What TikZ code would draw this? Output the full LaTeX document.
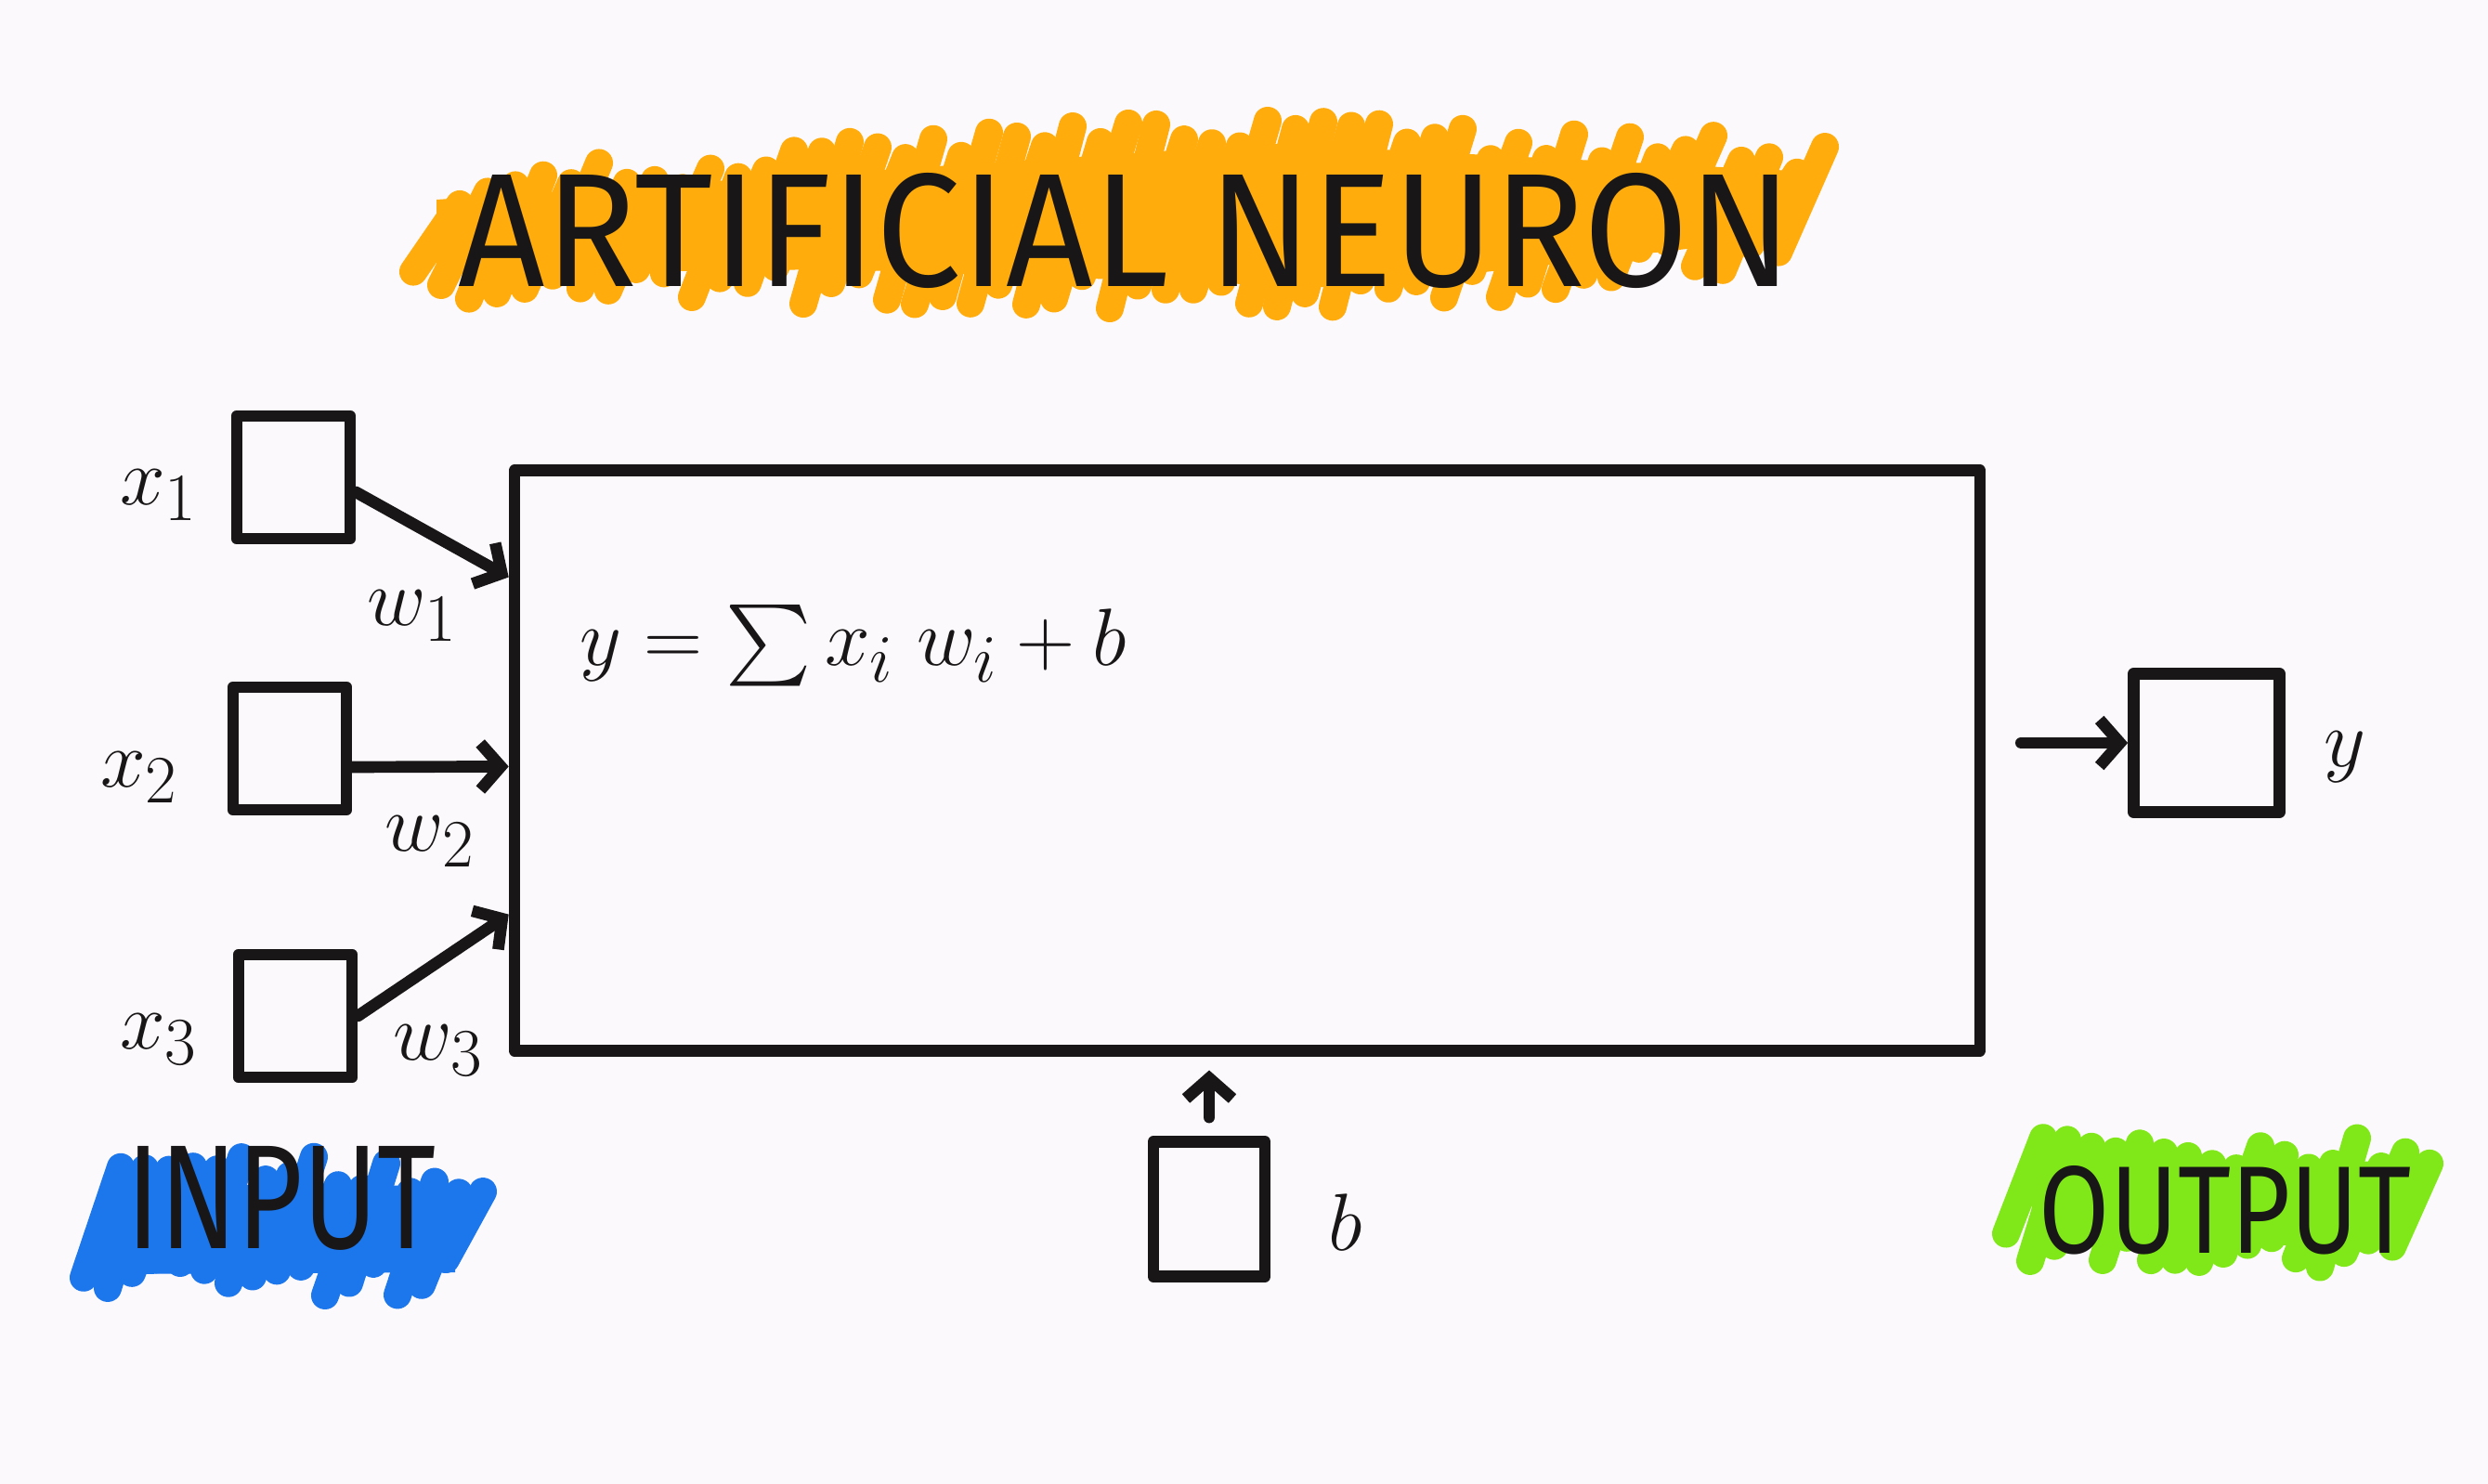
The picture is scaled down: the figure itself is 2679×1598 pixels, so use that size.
\documentclass[tikz,border=0pt]{standalone}
\usepackage{fontspec}
\usepackage{exscale}
\setsansfont{Fira Sans}
\usetikzlibrary{arrows.meta,calc}
\definecolor{paper}{RGB}{251,249,251}
\definecolor{hlorange}{RGB}{255,172,12}
\definecolor{hlblue}{RGB}{28,118,236}
\definecolor{hlgreen}{RGB}{128,232,24}
\definecolor{ink}{RGB}{24,22,22}
\begin{document}
\begin{tikzpicture}[x=0.01cm,y=-0.01cm,
  inkline/.style={draw=ink, line width=3.6pt, line cap=round, line join=round},
  cell/.style={inkline, rectangle, inner sep=0pt, minimum width=1.22cm, minimum height=1.32cm},
  arr/.style={inkline, -{Straight Barb[length=0.22cm, width=0.5cm]}},
  lbl/.style={text=ink, font=\fontsize{30}{34}\selectfont, inner sep=0pt},
  stroke/.style={line width=0.3cm, line cap=round},
]
\fill[paper] (0,0) rectangle (2679,1598);
\useasboundingbox (0,0) rectangle (2679,1598);
\pgfmathsetseed{11}

% highlights (marker strokes)
\fill[hlorange] (470,215) -- (1370,155) -- (1950,185) -- (1930,255) -- (1450,310) -- (900,290) -- (470,295) -- cycle;
\foreach \x in {470,500,...,1960}{
  \pgfmathsetmacro{\tp}{\x<1370 ? 178-(\x-460)/910*60 : 118+(\x-1370)/600*35}
  \pgfmathsetmacro{\bt}{\x<1450 ? 322+(\x-460)/990*20 : 342-(\x-1450)/520*60}
  \pgfmathsetmacro{\ra}{45*rnd}
  \pgfmathsetmacro{\rb}{45*rnd}
  \draw[hlorange, stroke] (\x-25,\bt-\ra) -- (\x+25,\tp+\rb);
}
\fill[hlblue] (115,1275) -- (495,1277) -- (490,1370) -- (118,1372) -- cycle;
\foreach \x in {110,136,...,500}{
  \pgfmathsetmacro{\ra}{40*rnd}
  \pgfmathsetmacro{\rb}{40*rnd}
  \draw[hlblue, stroke] (\x-20,1395-\ra) -- (\x+20,1245+\rb);
}
\fill[hlgreen] (2185,1255) -- (2595,1250) -- (2590,1340) -- (2190,1343) -- cycle;
\foreach \x in {2180,2206,...,2605}{
  \pgfmathsetmacro{\ra}{40*rnd}
  \pgfmathsetmacro{\rb}{40*rnd}
  \draw[hlgreen, stroke] (\x-20,1365-\ra) -- (\x+20,1225+\rb);
}

% titles
\node[text=ink, inner sep=0pt] (title) at (1212,248) {\resizebox{14.35cm}{1.22cm}{\sffamily ARTIFICIAL NEURON}};
\node[text=ink, inner sep=0pt] (input) at (303,1290) {\resizebox{3.33cm}{1.1cm}{\sffamily INPUT}};
\node[text=ink, inner sep=0pt] (output) at (2396,1303) {\resizebox{4.0cm}{0.94cm}{\sffamily OUTPUT}};

% main neuron box
\node[inkline, rectangle, inner sep=0pt, minimum width=15.77cm, minimum height=6.24cm] (neuron) at (1343,819) {};
\node[lbl, font=\fontsize{29}{32}\selectfont, anchor=west] (formula) at (624,695) {$y=\sum x_i\; w_i + b$};

% inputs
\node[cell] (x1) at (316,514) {};
\node[cell] (x2) at (312,806) {};
\node[cell] (x3) at (318,1094) {};
\node[lbl] (lx1) at (171,533) {$x_1$};
\node[lbl] (lx2) at (150,837) {$x_2$};
\node[lbl] (lx3) at (171,1119) {$x_3$};
\node[lbl] (lw1) at (444,663) {$w_1$};
\node[lbl] (lw2) at (463,906) {$w_2$};
\node[lbl] (lw3) at (472,1131) {$w_3$};

\coordinate (in1) at ($(neuron.north west)!0.19!(neuron.south west)$);
\coordinate (in2) at ($(neuron.north west)!0.51!(neuron.south west)$);
\coordinate (in3) at ($(neuron.north west)!0.76!(neuron.south west)$);
\draw[arr] ([yshift=-0.16cm]x1.east) -- (in1);
\draw[arr] ([yshift=-0.2cm]x2.east) -- (in2);
\draw[arr] (x3.east) -- (in3);

% output
\node[cell, minimum width=1.57cm, minimum height=1.49cm] (out) at (2376,800) {};
\node[lbl, font=\fontsize{40}{44}\selectfont] (ly) at (2525,815) {$y$};
\draw[arr, shorten <=0.38cm] (neuron.east |- out.west) -- (out.west);

% bias
\node[cell, minimum width=1.2cm, minimum height=1.45cm] (bias) at (1302,1302) {};
\node[lbl, font=\fontsize{40}{44}\selectfont] (lb) at (1449,1316) {$b$};
\draw[arr, shorten <=0.2cm, shorten >=0.15cm] (bias.north) -- (bias.north |- neuron.south);
\end{tikzpicture}
\end{document}
